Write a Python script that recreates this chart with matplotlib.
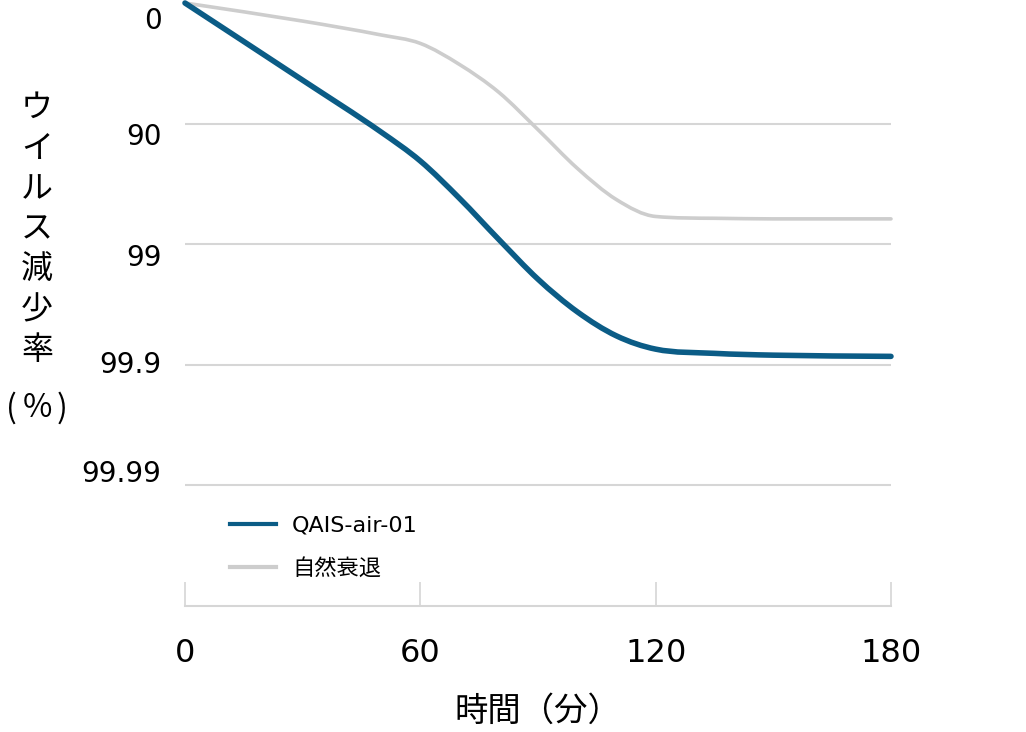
import matplotlib.pyplot as plt
from matplotlib.path import Path
from matplotlib.patches import PathPatch
from matplotlib.lines import Line2D
from matplotlib.transforms import ScaledTranslation

plt.rcParams['font.family'] = ['Noto Sans CJK JP', 'DejaVu Sans']

# time (minutes) and log-reduction values
minutes = [0, 30, 50, 60, 70, 80, 90, 100, 110, 120, 135, 150, 180]
qais = [0.0, 0.64, 1.07, 1.31, 1.62, 1.96, 2.29, 2.56, 2.76, 2.87, 2.905,
        2.92, 2.93]
natural = [0.0, 0.15, 0.265, 0.335, 0.51, 0.74, 1.05, 1.37, 1.63, 1.77, 1.785,
           1.79, 1.79]

y_ticks = [0, 1, 2, 3, 4]
y_labels = ['0', '90', '99', '99.9', '99.99']
x_ticks = [0, 60, 120, 180]

blue = '#0b5c86'
gray = '#cdcdcd'
grid_c = '#d6d6d6'
num_font = ['DejaVu Sans']


def smooth_path(xs, ys):
    # monotone cubic curve through the points
    n = len(xs)
    d = [(ys[i + 1] - ys[i]) / (xs[i + 1] - xs[i]) for i in range(n - 1)]
    m = [d[0]] + [(d[i - 1] + d[i]) / 2 if d[i - 1] * d[i] > 0 else 0
                  for i in range(1, n - 1)] + [d[-1]]
    for i in range(n - 1):
        if d[i] == 0:
            m[i] = m[i + 1] = 0
            continue
        a, b = m[i] / d[i], m[i + 1] / d[i]
        s = a * a + b * b
        if s > 9:
            t = 3 / s ** 0.5
            m[i], m[i + 1] = t * a * d[i], t * b * d[i]
    verts = [(xs[0], ys[0])]
    codes = [Path.MOVETO]
    for i in range(n - 1):
        h = (xs[i + 1] - xs[i]) / 3
        verts += [(xs[i] + h, ys[i] + h * m[i]),
                  (xs[i + 1] - h, ys[i + 1] - h * m[i + 1]),
                  (xs[i + 1], ys[i + 1])]
        codes += [Path.CURVE4] * 3
    return Path(verts, codes)


fig = plt.figure(figsize=(10.26, 7.32), dpi=100)
ax = fig.add_axes([0.1803, 0.1721, 0.6881, 0.8238])

for v in y_ticks[1:]:
    ax.axhline(v, color=grid_c, lw=1.5, zorder=1)

ax.add_patch(PathPatch(smooth_path(minutes, natural), fill=False, ec=gray,
                       lw=2.6, capstyle='round', clip_on=False, zorder=3))
ax.add_patch(PathPatch(smooth_path(minutes, qais), fill=False, ec=blue,
                       lw=4.0, capstyle='round', clip_on=False, zorder=4))

ax.set_xlim(0, 180)
ax.set_ylim(5, 0)

for s in ['top', 'right', 'left']:
    ax.spines[s].set_visible(False)
ax.spines['bottom'].set_color(grid_c)
ax.spines['bottom'].set_linewidth(1.5)

ax.set_xticks(x_ticks)
ax.set_xticklabels([str(t) for t in x_ticks], fontsize=23, family=num_font)
ax.tick_params(axis='x', direction='in', length=17, width=1.2,
               color=grid_c, pad=23)
ax.set_yticks(y_ticks)
ax.set_yticklabels(y_labels, fontsize=20, family=num_font)
ax.tick_params(axis='y', length=0, pad=17)
# the labels sit a little off their grid lines in the original
for lbl, dy in zip(ax.get_yticklabels(), [15, 10, 11, -3, -14]):
    lbl.set_transform(lbl.get_transform()
                      + ScaledTranslation(0, -dy / 100, fig.dpi_scale_trans))

ax.set_xlabel('時間（分）', fontsize=24, labelpad=18)

for i, ch in enumerate('ウイルス減少率'):
    fig.text(37 / 1026, 1 - (108 + 40.4 * i) / 732, ch, fontsize=23,
             ha='center', va='center')
for x, ch in [(11, '('), (37, '%'), (62, ')')]:
    fig.text(x / 1026, 1 - 408 / 732, ch, fontsize=23, ha='center',
             va='center')

handles = [Line2D([], [], color=blue, lw=3.0),
           Line2D([], [], color=gray, lw=3.0)]
ax.legend(handles, ['QAIS-air-01', '自然衰退'], loc='upper left',
          bbox_to_anchor=(0.035, 0.183), frameon=False,
          prop={'family': ['DejaVu Sans', 'Noto Sans CJK JP'], 'size': 16},
          handlelength=2.1, handletextpad=0.7, labelspacing=1.0)

fig.savefig('out.png', dpi=100)
